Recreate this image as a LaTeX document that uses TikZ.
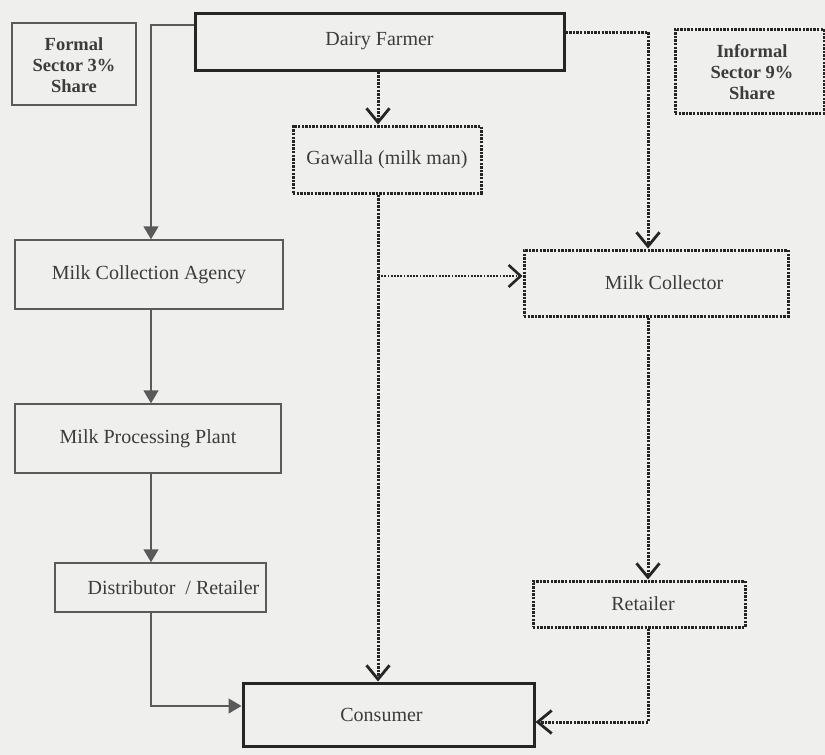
\documentclass[tikz,border=0pt]{standalone}
\usepackage{fontspec}
\setmainfont{Liberation Serif}
\usetikzlibrary{arrows.meta}
\definecolor{paper}{HTML}{EFEFEE}
\definecolor{ink}{HTML}{252525}
\definecolor{thinink}{HTML}{5A5A5A}
\definecolor{txt}{HTML}{3C3C3C}
\tikzset{
  box/.style={draw=thinink, line width=1.4pt, rectangle, inner sep=0pt, text=txt,
    font=\fontsize{20}{23}\selectfont},
  thickbox/.style={box, draw=ink, line width=3pt},
  dotbox/.style={box, draw=ink, line width=3pt, dash pattern=on 2.4pt off 1.2pt},
  sharetext/.style={text=txt, font=\fontsize{18.5}{22}\bfseries\selectfont, align=center},
  solidarrow/.style={draw=thinink, line width=1.4pt,
    -{Triangle[length=13pt,width=15pt]}},
  dotarrow/.style={draw=ink, line width=3pt, dash pattern=on 2.4pt off 1.2pt,
    -{Straight Barb[length=14pt,width=23pt,line width=2.8pt]}},
  thindotarrow/.style={draw=ink, line width=1.8pt, dash pattern=on 1.8pt off 1.4pt,
    -{Straight Barb[length=12pt,width=22pt,line width=2.6pt]}},
}
\begin{document}
\begin{tikzpicture}[x=1pt, y=-1pt]
  \useasboundingbox[fill=paper] (0,0) rectangle (825,755);

  % sector labels
  \node[box, minimum width=124, minimum height=82] (formal) at (74,64) {};
  \node[sharetext] (formaltext) at (74,65) {Formal\\[-1pt]Sector 3\%\\[-1pt]Share};
  \node[dotbox, minimum width=149, minimum height=84] (informal) at (749.5,71) {};
  \node[sharetext] (informaltext) at (752,72) {Informal\\[-1pt]Sector 9\%\\[-1pt]Share};

  % chain boxes
  \node[thickbox, minimum width=369, minimum height=57] (dairy) at (379.5,41.5) {Dairy Farmer};
  \node[dotbox, minimum width=188, minimum height=67] (gawalla) at (387,159.5) {Gawalla (milk man)};
  \node[box, minimum width=268, minimum height=69] (mca) at (149,274.5) {Milk Collection Agency};
  \node[dotbox, minimum width=264, minimum height=66] (collector) at (656,283) {\hspace*{16pt}Milk Collector};
  \node[box, minimum width=266, minimum height=69] (mpp) at (148,438.5) {Milk Processing Plant};
  \node[box, minimum width=211, minimum height=49] (distrib) at (160.5,587.5) {\hspace*{26pt}Distributor\ \ / Retailer};
  \node[dotbox, minimum width=212, minimum height=46] (retailer) at (639,604) {\hspace*{8pt}Retailer};
  \node[thickbox, minimum width=291, minimum height=63] (consumer) at (388.5,714.5) {Consumer\hspace*{14pt}};

  % guide coordinates for the connector routes
  \coordinate (lx) at (151,25);
  \coordinate (gx) at (378,0);
  \coordinate (rx) at (648,32);
  \coordinate (br) at (378,276);
  \coordinate (cw) at (0,706);
  \coordinate (ce) at (0,722);

  % formal sector (solid)
  \draw[solidarrow] (dairy.west |- lx) -| (mca.north -| lx);
  \draw[solidarrow] (mca.south -| lx) -- (mpp.north -| lx);
  \draw[solidarrow] (mpp.south -| lx) -- (distrib.north -| lx);
  \draw[solidarrow] (distrib.south -| lx) |- (consumer.west |- cw);

  % informal sector (dotted)
  \draw[dotarrow] (dairy.south -| gx) -- (gawalla.north -| gx);
  \draw[dotarrow] (gawalla.south -| gx) -- (consumer.north -| gx);
  \draw[thindotarrow] (br) -- (collector.west |- br);
  \draw[dotarrow] (dairy.east |- rx) -| (collector.north -| rx);
  \draw[dotarrow] (collector.south -| rx) -- (retailer.north -| rx);
  \draw[dotarrow] (retailer.south -| rx) |- (consumer.east |- ce);
\end{tikzpicture}
\end{document}
